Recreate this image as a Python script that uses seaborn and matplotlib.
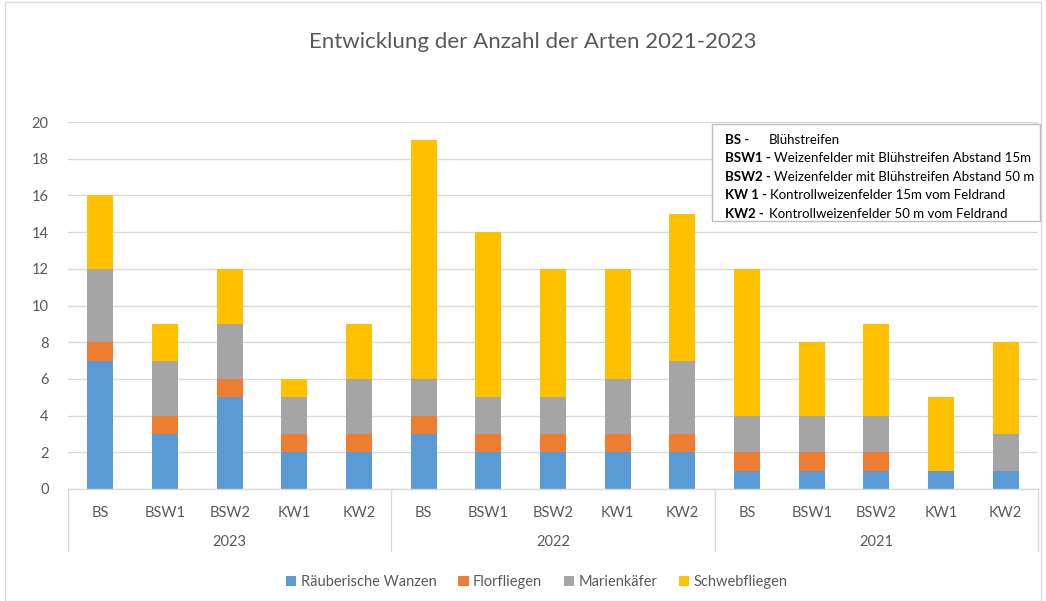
import matplotlib
matplotlib.use("Agg")
import matplotlib.pyplot as plt
import seaborn as sns
import pandas as pd
import numpy as np
from matplotlib.patches import Rectangle
from matplotlib.transforms import blended_transform_factory

years = ["2023", "2022", "2021"]
sites = ["BS", "BSW1", "BSW2", "KW1", "KW2"]
series = ["Räuberische Wanzen", "Florfliegen", "Marienkäfer", "Schwebfliegen"]
colors = ["#5b9bd5", "#ed7d31", "#a5a5a5", "#ffc000"]

wanzen = [7, 3, 5, 2, 2,   3, 2, 2, 2, 2,   1, 1, 1, 1, 1]
florfliegen = [1, 1, 1, 1, 1,   1, 1, 1, 1, 1,   1, 1, 1, 0, 0]
marienkaefer = [4, 3, 3, 2, 3,   2, 2, 2, 3, 4,   2, 2, 2, 0, 2]
schwebfliegen = [4, 2, 3, 1, 3,   13, 9, 7, 6, 8,   8, 4, 5, 4, 5]

title = "Entwicklung der Anzahl der Arten 2021-2023"
legend_keys = ["BS -", "BSW1 -", "BSW2 -", "KW 1 -", "KW2 -"]
legend_desc = ["Blühstreifen",
               "Weizenfelder mit Blühstreifen Abstand 15m",
               "Weizenfelder mit Blühstreifen Abstand 50 m",
               "Kontrollweizenfelder 15m vom Feldrand",
               "Kontrollweizenfelder 50 m vom Feldrand"]

sns.set_theme(style="white")
plt.rcParams["font.family"] = ["Lato", "DejaVu Sans"]
text_col = "#595959"
grid_col = "#d9d9d9"

ids = [f"{y} {s}" for y in years for s in sites]
df = pd.DataFrame({"id": ids,
                   "Räuberische Wanzen": wanzen,
                   "Florfliegen": florfliegen,
                   "Marienkäfer": marienkaefer,
                   "Schwebfliegen": schwebfliegen})
cum = df[series].cumsum(axis=1)

fig = plt.figure(figsize=(10.46, 6.01), dpi=100)
ax = fig.add_axes([68/1046, 1-489/601, (1038-68)/1046, (489-122)/601])

for name, col in reversed(list(zip(series, colors))):
    sns.barplot(x=df["id"], y=cum[name], order=ids, color=col, width=0.4,
                saturation=1, ax=ax, label=name, edgecolor="none", linewidth=0)

ax.set_ylim(0, 20)
ax.set_xlim(-0.5, len(ids) - 0.5)
ax.set_yticks(range(0, 21, 2))
ax.yaxis.grid(True, color=grid_col, linewidth=1)
ax.set_axisbelow(True)
for sp in ["top", "right", "left"]:
    ax.spines[sp].set_visible(False)
ax.spines["bottom"].set_color(grid_col)
ax.spines["bottom"].set_linewidth(1)
ax.set_xlabel("")
ax.set_ylabel("")
ax.set_xticks(range(len(ids)))
ax.set_xticklabels([s for y in years for s in sites])
ax.tick_params(axis="x", length=0, pad=12, labelsize=10.5, labelcolor=text_col)
ax.tick_params(axis="y", length=0, pad=14, labelsize=10.5, labelcolor=text_col)

trans = blended_transform_factory(ax.transData, ax.transAxes)
ax_h_px = 489 - 122
for k in range(len(years) + 1):
    xpos = k * len(sites) - 0.5
    ax.plot([xpos, xpos], [0, -(551 - 489) / ax_h_px], transform=trans,
            color=grid_col, linewidth=1, clip_on=False)
for k, y in enumerate(years):
    ax.text(k * len(sites) + 2, -(542 - 489) / ax_h_px, y, transform=trans,
            ha="center", va="center", fontsize=10.5, color=text_col)

fig.text(533/1046, 1 - 42/601, title, ha="center", va="center", fontsize=16,
         color=text_col)

handles, labels = ax.get_legend_handles_labels()
order = [labels.index(s) for s in series]
if ax.get_legend():
    ax.get_legend().remove()
fig.legend([handles[i] for i in order], [labels[i] for i in order],
           loc="center", bbox_to_anchor=(537/1046, 1 - 582/601), ncol=4,
           frameon=False, fontsize=10.5, labelcolor=text_col,
           handlelength=0.7, handleheight=0.7, handletextpad=0.3,
           columnspacing=1.5)

# Explanation box
fig.patches.append(Rectangle((712/1046, 1 - 221/601), (1040-712)/1046,
                             (221-124)/601, transform=fig.transFigure,
                             facecolor="white", edgecolor="#bfbfbf",
                             linewidth=1, zorder=5))
fig.canvas.draw()
renderer = fig.canvas.get_renderer()
for i, (k, d) in enumerate(zip(legend_keys, legend_desc)):
    yy = 1 - (140 + i * 18.5) / 601
    t = fig.text(725/1046, yy, k, ha="left", va="center", fontsize=9.5,
                 fontweight="bold", color="black", zorder=6)
    bb = t.get_window_extent(renderer)
    x_desc = max(bb.x1 + 3, 769) / 1046
    fig.text(x_desc, yy, d, ha="left", va="center", fontsize=9.5,
             color="black", zorder=6)

# outer chart border
fig.patches.append(Rectangle((5/1046, 0), 1 - 10/1046, 1 - 2/601,
                             transform=fig.transFigure, facecolor="none",
                             edgecolor="#d9d9d9", linewidth=1))

fig.savefig("out.png", dpi=100)
